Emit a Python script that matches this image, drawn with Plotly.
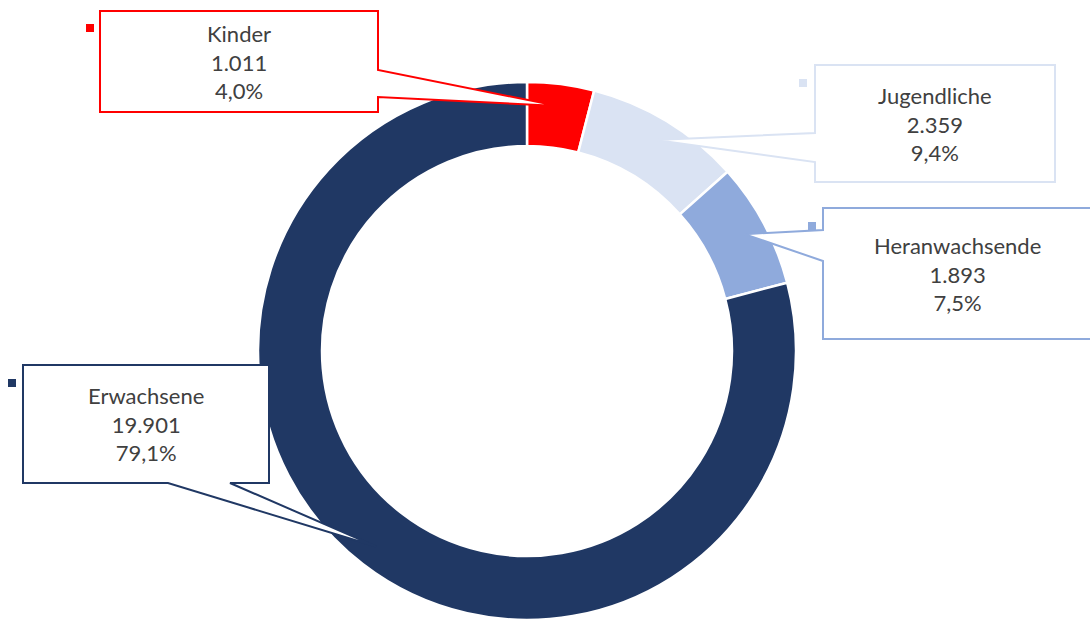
import math
import plotly.graph_objects as go

# Tatverdächtige nach Altersgruppe
categories = ["Kinder", "Jugendliche", "Heranwachsende", "Erwachsene"]
values = [1011, 2359, 1893, 19901]
value_labels = ["1.011", "2.359", "1.893", "19.901"]
share_labels = ["4,0%", "9,4%", "7,5%", "79,1%"]
colors = ["#FF0000", "#DAE3F3", "#8FAADC", "#203864"]

W, H = 1090, 621
CX, CY, R = 527, 351, 269     # donut centre and outer radius (px)
HOLE = 0.762
TIP_R = 0.918 * R              # where the callout pointers end

# callout boxes (px): left, top, right, bottom, pointer side, pointer base a/b
boxes = {
    "Kinder":         dict(box=(100, 11, 378, 112), side="right", base=(70, 97), key=(86, 24)),
    "Jugendliche":    dict(box=(815, 65, 1055, 182), side="left", base=(133, 162), key=(799, 79)),
    "Heranwachsende": dict(box=(823, 208, 1092, 339), side="left", base=(230, 261), key=(808, 222)),
    "Erwachsene":     dict(box=(23, 365, 269, 483), side="bottom", base=(168, 230), key=(8, 379)),
}


def px(x, y):
    return x / W, 1 - y / H


fig = go.Figure(
    go.Pie(
        labels=categories,
        values=values,
        hole=HOLE,
        sort=False,
        direction="clockwise",
        rotation=0,
        marker=dict(colors=colors, line=dict(color="white", width=2.5)),
        textinfo="none",
        hoverinfo="label+value+percent",
        showlegend=False,
        domain=dict(x=[(CX - R) / W, (CX + R) / W], y=[1 - (CY + R) / H, 1 - (CY - R) / H]),
    )
)

total = sum(values)
shapes, annotations = [], []
cum = 0.0
for name, val, vlab, slab, col in zip(categories, values, value_labels, share_labels, colors):
    mid = (cum + val / 2) / total * 2 * math.pi
    cum += val
    tx = CX + TIP_R * math.sin(mid)
    ty = CY - TIP_R * math.cos(mid)
    spec = boxes[name]
    l, t, r, b = spec["box"]
    a1, a2 = spec["base"]
    if spec["side"] == "right":
        pts = [(l, t), (r, t), (r, a1), (tx, ty), (r, a2), (r, b), (l, b)]
    elif spec["side"] == "left":
        pts = [(l, t), (r, t), (r, b), (l, b), (l, a2), (tx, ty), (l, a1)]
    else:
        pts = [(l, t), (r, t), (r, b), (a2, b), (tx, ty), (a1, b), (l, b)]
    path = "M " + " L ".join(f"{px(x, y)[0]:.5f},{px(x, y)[1]:.5f}" for x, y in pts) + " Z"
    shapes.append(dict(type="path", path=path, xref="paper", yref="paper",
                       fillcolor="white", line=dict(color=col, width=2), layer="above"))
    kx, ky = spec["key"]
    x0, y0 = px(kx, ky)
    x1, y1 = px(kx + 8, ky + 8)
    shapes.append(dict(type="rect", xref="paper", yref="paper", x0=x0, x1=x1, y0=y1, y1=y0,
                       fillcolor=col, line=dict(width=0), layer="above"))
    cxb, cyb = px((l + r) / 2, (t + b) / 2)
    annotations.append(dict(
        x=cxb, y=cyb, xref="paper", yref="paper", showarrow=False,
        xanchor="center", yanchor="middle",
        text=f"{name}<br>{vlab}<br>{slab}", align="center",
        font=dict(family="Lato, sans-serif", size=22, color="#404040"),
    ))

fig.update_layout(
    width=W, height=H,
    margin=dict(l=0, r=0, t=0, b=0),
    paper_bgcolor="white", plot_bgcolor="white",
    shapes=shapes, annotations=annotations,
)

fig.write_html("out.html")
